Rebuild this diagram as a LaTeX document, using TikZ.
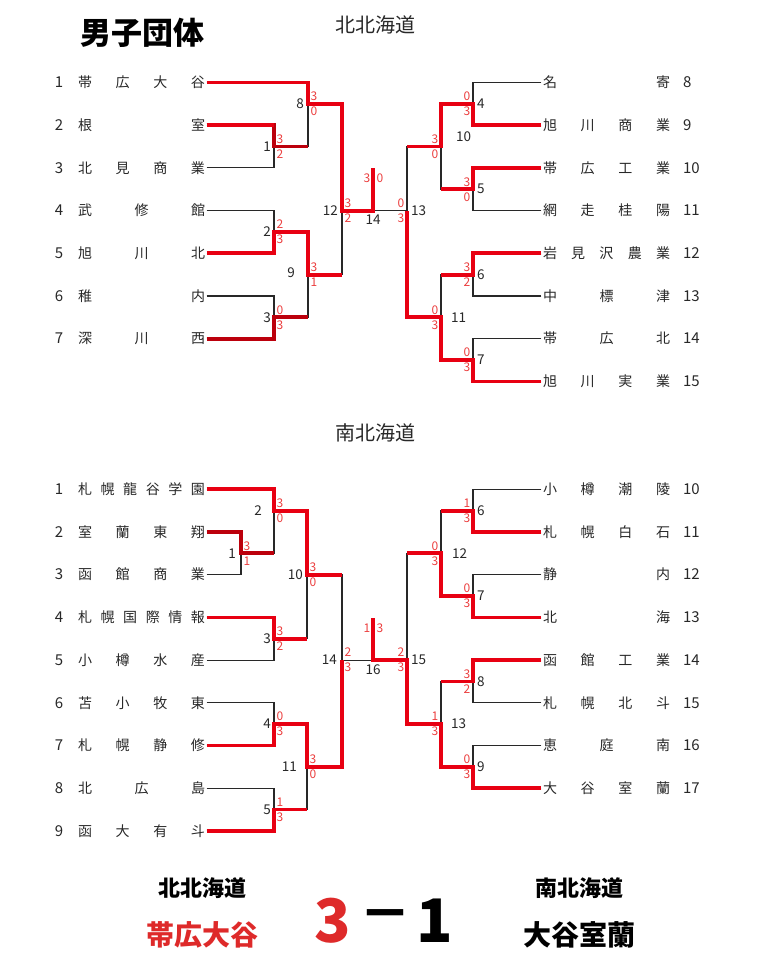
\documentclass[tikz,border=0pt]{standalone}
\usepackage{fontspec}
\setmainfont{Noto Sans CJK JP}
\usetikzlibrary{positioning}

\definecolor{winred}{RGB}{232,0,18}
\definecolor{darkred}{RGB}{188,0,12}
\definecolor{scorered}{RGB}{236,64,64}
\definecolor{titlered}{RGB}{222,42,42}
\definecolor{ink}{RGB}{40,40,40}

\newcommand\schoolname[1]{\makebox[127pt][s]{#1}}
\newcommand\lscore[3]{%
  \node[score,xshift=6pt,yshift=7.5pt] (#1u) at (#1) {#2};
  \node[score,xshift=6pt,yshift=-7.5pt] (#1d) at (#1) {#3};}
\newcommand\rscore[3]{%
  \node[score,xshift=-6pt,yshift=7.5pt] (#1u) at (#1) {#2};
  \node[score,xshift=-6pt,yshift=-7.5pt] (#1d) at (#1) {#3};}

\begin{document}
\begin{tikzpicture}[x=1pt,y=-1pt,node distance=42.7pt,
    tname/.style={inner xsep=1.5pt,inner ysep=0pt,text height=12pt,text depth=1.5pt,
                  font=\fontsize{14}{14}\selectfont,text=ink},
    tnum/.style={tname,font=\fontsize{15}{15}\selectfont},
    rnum/.style={tnum,inner xsep=0pt,text width=22pt,align=left},
    score/.style={inner sep=0pt,font=\fontsize{12}{12}\selectfont,text=scorered},
    match/.style={inner sep=0pt,font=\fontsize{13.5}{13.5}\selectfont,text=ink},
    line/.style={draw=ink,line width=1.1pt},
    hv/.style={to path={-| (\tikztotarget)}},
    win/.style={draw=winred,line width=3.8pt,line join=miter},
    darkwin/.style={win,draw=darkred}]
\useasboundingbox[fill=white] (0,0) rectangle (768,960);

% headings
\node[font=\fontsize{31}{31}\selectfont\bfseries] (title) at (142,33) {男子団体};
\node[font=\fontsize{20}{20}\selectfont,text=ink] (north) at (375,25) {北北海道};
\node[font=\fontsize{20}{20}\selectfont,text=ink] (south) at (375,433) {南北海道};

% north, left
\node[tnum] (na1) at (59,82.5) {1};
\node[tnum] (na2) [below of=na1] {2};
\node[tnum] (na3) [below of=na2] {3};
\node[tnum] (na4) [below of=na3] {4};
\node[tnum] (na5) [below of=na4] {5};
\node[tnum] (na6) [below of=na5] {6};
\node[tnum] (na7) [below of=na6] {7};
\node[tname] (a1) at (141.5,82.5) {\schoolname{帯\hfill 広\hfill 大\hfill 谷}};
\node[tname] (a2) [below of=a1] {\schoolname{根\hfill 室}};
\node[tname] (a3) [below of=a2] {\schoolname{北\hfill 見\hfill 商\hfill 業}};
\node[tname] (a4) [below of=a3] {\schoolname{武\hfill 修\hfill 館}};
\node[tname] (a5) [below of=a4] {\schoolname{旭\hfill 川\hfill 北}};
\node[tname] (a6) [below of=a5] {\schoolname{稚\hfill 内}};
\node[tname] (a7) [below of=a6] {\schoolname{深\hfill 川\hfill 西}};

% north, right
\node[tname] (b8) at (606.5,82.5) {\schoolname{名\hfill 寄}};
\node[tname] (b9) [below of=b8] {\schoolname{旭\hfill 川\hfill 商\hfill 業}};
\node[tname] (b10) [below of=b9] {\schoolname{帯\hfill 広\hfill 工\hfill 業}};
\node[tname] (b11) [below of=b10] {\schoolname{網\hfill 走\hfill 桂\hfill 陽}};
\node[tname] (b12) [below of=b11] {\schoolname{岩\hfill 見\hfill 沢\hfill 農\hfill 業}};
\node[tname] (b13) [below of=b12] {\schoolname{中\hfill 標\hfill 津}};
\node[tname] (b14) [below of=b13] {\schoolname{帯\hfill 広\hfill 北}};
\node[tname] (b15) [below of=b14] {\schoolname{旭\hfill 川\hfill 実\hfill 業}};
\node[rnum] (nb8) at (694,82.5) {8};
\node[rnum] (nb9) [below of=nb8] {9};
\node[rnum] (nb10) [below of=nb9] {10};
\node[rnum] (nb11) [below of=nb10] {11};
\node[rnum] (nb12) [below of=nb11] {12};
\node[rnum] (nb13) [below of=nb12] {13};
\node[rnum] (nb14) [below of=nb13] {14};
\node[rnum] (nb15) [below of=nb14] {15};

% north junctions
\coordinate (m1) at (274,146.55);
\coordinate (m8) at (308,103.85);
\coordinate (m2) at (274,231.95);
\coordinate (m3) at (274,317.35);
\coordinate (m9) at (308,274.65);
\coordinate (m12) at (342,210.6);
\coordinate (m14) at (373,210.6);
\coordinate (ntop) at (373,168);
\coordinate (m4) at (473,103.85);
\coordinate (m5) at (473,189.25);
\coordinate (m6) at (473,274.65);
\coordinate (m7) at (473,360.05);
\coordinate (m10) at (441,146.55);
\coordinate (m11) at (441,317.35);
\coordinate (m13) at (407,210.6);

\path[line]
  (a1.east) edge[hv] (m8)
  (a2.east) edge[hv] (m1)
  (a3.east) edge[hv] (m1)
  (a4.east) edge[hv] (m2)
  (a5.east) edge[hv] (m2)
  (a6.east) edge[hv] (m3)
  (a7.east) edge[hv] (m3)
  (m1) edge[hv] (m8)
  (m2) edge[hv] (m9)
  (m3) edge[hv] (m9)
  (m8) edge[hv] (m12)
  (m9) edge[hv] (m12)
  (m12) edge (m13)
  (b8.west) edge[hv] (m4)
  (b9.west) edge[hv] (m4)
  (b10.west) edge[hv] (m5)
  (b11.west) edge[hv] (m5)
  (b12.west) edge[hv] (m6)
  (b13.west) edge[hv] (m6)
  (b14.west) edge[hv] (m7)
  (b15.west) edge[hv] (m7)
  (m4) edge[hv] (m10)
  (m5) edge[hv] (m10)
  (m6) edge[hv] (m11)
  (m7) edge[hv] (m11)
  (m10) edge[hv] (m13)
  (m11) edge[hv] (m13);

\draw[darkwin] (a2.east) -| (m1) -- (m1 -| m8);
\draw[win] (a2.east) -- (a2.east -| m1);
\draw[darkwin] (a7.east) -| (m3) -- (m3 -| m9);
\draw[win] (a5.east) -| (m2) -| (m9) -- (m9 -| m12);
\draw[win] (a1.east) -| (m8) -| (m12) -- (m14) -- (ntop);
\draw[win] (b9.west) -| (m4) -| (m10) -- (m10 -| m13);
\draw[win] (b10.west) -| (m5) -- (m5 -| m10);
\draw[win] (b12.west) -| (m6) -- (m6 -| m11);
\draw[win] (b15.west) -| (m7) -| (m11) -| (m13);

\lscore{m1}{3}{2}
\lscore{m8}{3}{0}
\lscore{m2}{2}{3}
\lscore{m3}{0}{3}
\lscore{m9}{3}{1}
\lscore{m12}{3}{2}
\rscore{m4}{0}{3}
\rscore{m5}{3}{0}
\rscore{m6}{3}{2}
\rscore{m7}{0}{3}
\rscore{m10}{3}{0}
\rscore{m11}{0}{3}
\rscore{m13}{0}{3}
\node[score,xshift=-6pt,yshift=-10pt] (f14l) at (ntop) {3};
\node[score,xshift=7pt,yshift=-10pt] (f14r) at (ntop) {0};

\node[match,left=3pt of m1] (l1) {1};
\node[match,left=4pt of m8] (l8) {8};
\node[match,left=3pt of m2] (l2) {2};
\node[match,left=3pt of m3] (l3) {3};
\node[match,left=13pt of m9,yshift=2pt] (l9) {9};
\node[match,left=4pt of m12] (l12) {12};
\node[match,below=4pt of m14] (l14) {14};
\node[match,right=4pt of m4] (l4) {4};
\node[match,right=4pt of m5] (l5) {5};
\node[match,right=4pt of m6] (l6) {6};
\node[match,right=4pt of m7] (l7) {7};
\node[match,right=15pt of m10,yshift=10pt] (l10) {10};
\node[match,right=10pt of m11] (l11) {11};
\node[match,right=4pt of m13] (l13) {13};

% south, left
\node[tnum] (nc1) at (59,489.3) {1};
\node[tnum] (nc2) [below of=nc1] {2};
\node[tnum] (nc3) [below of=nc2] {3};
\node[tnum] (nc4) [below of=nc3] {4};
\node[tnum] (nc5) [below of=nc4] {5};
\node[tnum] (nc6) [below of=nc5] {6};
\node[tnum] (nc7) [below of=nc6] {7};
\node[tnum] (nc8) [below of=nc7] {8};
\node[tnum] (nc9) [below of=nc8] {9};
\node[tname] (c1) at (141.5,489.3) {\schoolname{札\hfill 幌\hfill 龍\hfill 谷\hfill 学\hfill 園}};
\node[tname] (c2) [below of=c1] {\schoolname{室\hfill 蘭\hfill 東\hfill 翔}};
\node[tname] (c3) [below of=c2] {\schoolname{函\hfill 館\hfill 商\hfill 業}};
\node[tname] (c4) [below of=c3] {\schoolname{札\hfill 幌\hfill 国\hfill 際\hfill 情\hfill 報}};
\node[tname] (c5) [below of=c4] {\schoolname{小\hfill 樽\hfill 水\hfill 産}};
\node[tname] (c6) [below of=c5] {\schoolname{苫\hfill 小\hfill 牧\hfill 東}};
\node[tname] (c7) [below of=c6] {\schoolname{札\hfill 幌\hfill 静\hfill 修}};
\node[tname] (c8) [below of=c7] {\schoolname{北\hfill 広\hfill 島}};
\node[tname] (c9) [below of=c8] {\schoolname{函\hfill 大\hfill 有\hfill 斗}};

% south, right
\node[tname] (d10) at (606.5,489.3) {\schoolname{小\hfill 樽\hfill 潮\hfill 陵}};
\node[tname] (d11) [below of=d10] {\schoolname{札\hfill 幌\hfill 白\hfill 石}};
\node[tname] (d12) [below of=d11] {\schoolname{静\hfill 内}};
\node[tname] (d13) [below of=d12] {\schoolname{北\hfill 海}};
\node[tname] (d14) [below of=d13] {\schoolname{函\hfill 館\hfill 工\hfill 業}};
\node[tname] (d15) [below of=d14] {\schoolname{札\hfill 幌\hfill 北\hfill 斗}};
\node[tname] (d16) [below of=d15] {\schoolname{恵\hfill 庭\hfill 南}};
\node[tname] (d17) [below of=d16] {\schoolname{大\hfill 谷\hfill 室\hfill 蘭}};
\node[rnum] (nd10) at (694,489.3) {10};
\node[rnum] (nd11) [below of=nd10] {11};
\node[rnum] (nd12) [below of=nd11] {12};
\node[rnum] (nd13) [below of=nd12] {13};
\node[rnum] (nd14) [below of=nd13] {14};
\node[rnum] (nd15) [below of=nd14] {15};
\node[rnum] (nd16) [below of=nd15] {16};
\node[rnum] (nd17) [below of=nd16] {17};

% south junctions
\coordinate (n1) at (241,553.35);
\coordinate (n2) at (274,510.65);
\coordinate (n3) at (274,638.75);
\coordinate (n4) at (274,724.15);
\coordinate (n5) at (274,809.55);
\coordinate (n10) at (307,574.7);
\coordinate (n11) at (307,766.85);
\coordinate (n14) at (342,660.1);
\coordinate (n16) at (373,660.1);
\coordinate (stop) at (373,618);
\coordinate (n6) at (473,510.65);
\coordinate (n7) at (473,596.05);
\coordinate (n8) at (473,681.45);
\coordinate (n9) at (473,766.85);
\coordinate (n12) at (441,553.35);
\coordinate (n13) at (441,724.15);
\coordinate (n15) at (407,660.1);

\path[line]
  (c1.east) edge[hv] (n2)
  (c2.east) edge[hv] (n1)
  (c3.east) edge[hv] (n1)
  (c4.east) edge[hv] (n3)
  (c5.east) edge[hv] (n3)
  (c6.east) edge[hv] (n4)
  (c7.east) edge[hv] (n4)
  (c8.east) edge[hv] (n5)
  (c9.east) edge[hv] (n5)
  (n1) edge[hv] (n2)
  (n2) edge[hv] (n10)
  (n3) edge[hv] (n10)
  (n4) edge[hv] (n11)
  (n5) edge[hv] (n11)
  (n10) edge[hv] (n14)
  (n11) edge[hv] (n14)
  (n14) edge (n15)
  (d10.west) edge[hv] (n6)
  (d11.west) edge[hv] (n6)
  (d12.west) edge[hv] (n7)
  (d13.west) edge[hv] (n7)
  (d14.west) edge[hv] (n8)
  (d15.west) edge[hv] (n8)
  (d16.west) edge[hv] (n9)
  (d17.west) edge[hv] (n9)
  (n6) edge[hv] (n12)
  (n7) edge[hv] (n12)
  (n8) edge[hv] (n13)
  (n9) edge[hv] (n13)
  (n12) edge[hv] (n15)
  (n13) edge[hv] (n15);

\draw[darkwin] (c2.east) -| (n1) -- (n1 -| n2);
\draw[win] (c1.east) -| (n2) -| (n10) -- (n10 -| n14);
\draw[win] (c4.east) -| (n3) -- (n3 -| n10);
\draw[win] (c7.east) -| (n4) -| (n11) -| (n14);
\draw[win] (c9.east) -| (n5) -- (n5 -| n11);
\draw[win] (d11.west) -| (n6) -- (n6 -| n12);
\draw[win] (d13.west) -| (n7) -| (n12) -- (n12 -| n15);
\draw[win] (d14.west) -| (n8) -- (n8 -| n13);
\draw[win] (d17.west) -| (n9) -| (n13) -| (n15) -- (n16) -- (stop);

\lscore{n1}{3}{1}
\lscore{n2}{3}{0}
\lscore{n3}{3}{2}
\lscore{n4}{0}{3}
\lscore{n5}{1}{3}
\lscore{n10}{3}{0}
\lscore{n11}{3}{0}
\lscore{n14}{2}{3}
\rscore{n6}{1}{3}
\rscore{n7}{0}{3}
\rscore{n8}{3}{2}
\rscore{n9}{0}{3}
\rscore{n12}{0}{3}
\rscore{n13}{1}{3}
\rscore{n15}{2}{3}
\node[score,xshift=-6pt,yshift=-10pt] (f16l) at (stop) {1};
\node[score,xshift=7pt,yshift=-10pt] (f16r) at (stop) {3};

\node[match,left=5pt of n1] (k1) {1};
\node[match,left=12pt of n2] (k2) {2};
\node[match,left=3pt of n3] (k3) {3};
\node[match,left=3pt of n4] (k4) {4};
\node[match,left=3pt of n5] (k5) {5};
\node[match,left=4pt of n10] (k10) {10};
\node[match,left=10pt of n11] (k11) {11};
\node[match,left=5pt of n14] (k14) {14};
\node[match,below=4pt of n16] (k16) {16};
\node[match,right=4pt of n6] (k6) {6};
\node[match,right=4pt of n7] (k7) {7};
\node[match,right=4pt of n8] (k8) {8};
\node[match,right=4pt of n9] (k9) {9};
\node[match,right=11pt of n12] (k12) {12};
\node[match,right=10pt of n13] (k13) {13};
\node[match,right=4pt of n15] (k15) {15};

% result
\node[font=\fontsize{22}{22}\selectfont\bfseries] (resn) at (202,888) {北北海道};
\node[font=\fontsize{28}{28}\selectfont\bfseries,text=titlered] (wins) at (202,935) {帯広大谷};
\node[font=\fontsize{22}{22}\selectfont\bfseries] (ress) at (579,888) {南北海道};
\node[font=\fontsize{28}{28}\selectfont\bfseries] (lose) at (579,935) {大谷室蘭};
\node[font=\fontsize{60}{60}\selectfont\bfseries,text=titlered] (goal) at (333,921) {3};
\node[font=\fontsize{52}{52}\selectfont\bfseries] (dash) at (385,921) {－};
\node[font=\fontsize{60}{60}\selectfont\bfseries] (goal2) at (435,921) {1};
\end{tikzpicture}
\end{document}
